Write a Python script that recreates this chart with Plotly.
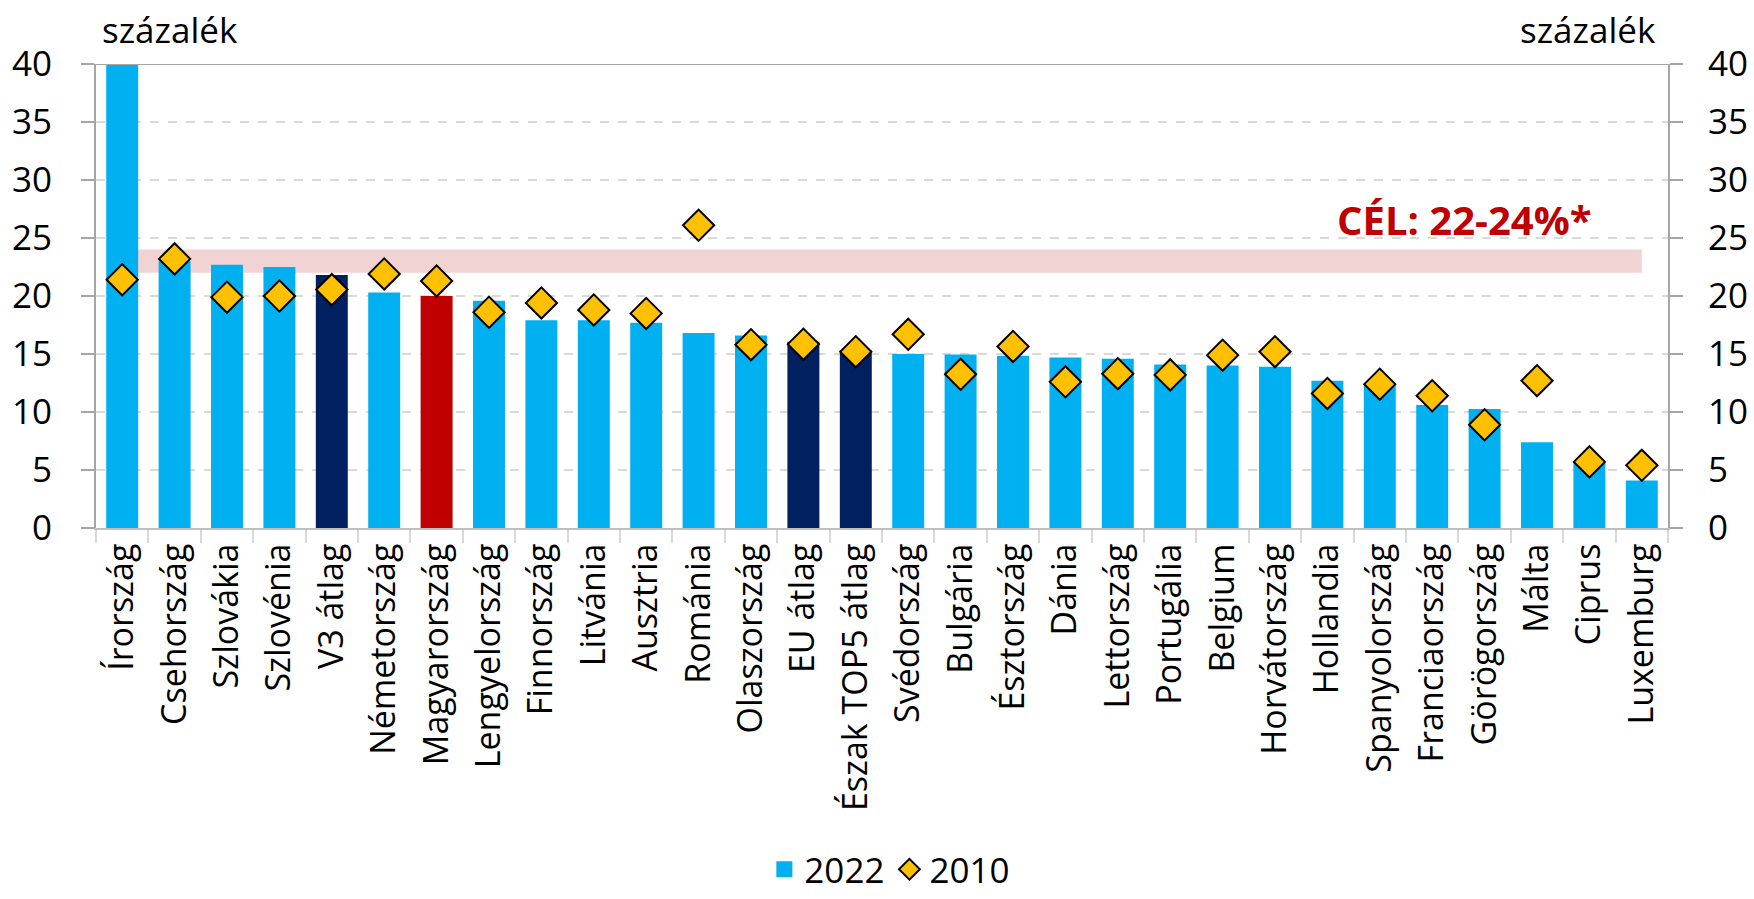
import plotly.graph_objects as go

categories = ["Írország", "Csehország", "Szlovákia", "Szlovénia", "V3 átlag", "Németország",
              "Magyarország", "Lengyelország", "Finnország", "Litvánia", "Ausztria", "Románia",
              "Olaszország", "EU átlag", "Észak TOP5 átlag", "Svédország", "Bulgária", "Észtország",
              "Dánia", "Lettország", "Portugália", "Belgium", "Horvátország", "Hollandia",
              "Spanyolország", "Franciaország", "Görögország", "Málta", "Ciprus", "Luxemburg"]
values_2022 = [40.0, 23.0, 22.7, 22.5, 21.8, 20.3, 20.0, 19.6, 17.9, 17.9, 17.7, 16.8,
               16.6, 16.05, 15.3, 15.0, 14.95, 14.85, 14.7, 14.6, 14.1, 14.0, 13.9, 12.7,
               12.5, 10.6, 10.25, 7.4, 5.6, 4.1]
values_2010 = [21.4, 23.2, 19.9, 20.0, 20.55, 21.9, 21.3, 18.6, 19.4, 18.8, 18.5, 26.1,
               15.8, 15.85, 15.2, 16.7, 13.25, 15.65, 12.6, 13.3, 13.2, 14.9, 15.2, 11.6,
               12.4, 11.4, 8.9, 12.7, 5.7, 5.4]
target_low, target_high = 22, 24
target_label = "CÉL: 22-24%*"
y_ticks = [0, 5, 10, 15, 20, 25, 30, 35, 40]
unit_label = "százalék"

LIGHT = "#00B0F0"
NAVY = "#002060"
RED = "#C00000"
GOLD = "#FFC000"
bar_colors = [RED if c == "Magyarország" else (NAVY if "átlag" in c else LIGHT) for c in categories]

FONT = "Open Sans"

fig = go.Figure()
fig.add_trace(go.Bar(x=categories, y=values_2022, name="2022",
                     marker=dict(color=bar_colors, line=dict(width=0)), showlegend=False))
fig.add_trace(go.Scatter(x=categories, y=values_2010, name="2010", mode="markers",
                         marker=dict(symbol="diamond", size=24, color=GOLD,
                                     line=dict(color="black", width=2)), showlegend=False))
# legend entries (larger legend symbols)
fig.add_trace(go.Scatter(x=[None], y=[None], name="2022", mode="markers",
                         marker=dict(symbol="square", size=24, color=LIGHT), legendrank=1))
fig.add_trace(go.Scatter(x=[None], y=[None], name="2010", mode="markers",
                         marker=dict(symbol="diamond", size=24, color=GOLD,
                                     line=dict(color="black", width=2)), legendrank=2))
# invisible trace to show right axis
fig.add_trace(go.Scatter(x=categories[:1], y=[0], yaxis="y2", mode="markers",
                         marker=dict(opacity=0), showlegend=False, hoverinfo="skip"))

fig.add_shape(type="rect", xref="x", yref="y", x0=0, x1=len(categories) - 1,
              y0=target_low, y1=target_high, fillcolor="#F2D3D3", line=dict(width=0), layer="below")

fig.add_annotation(x=25.6, y=26.6, xref="x", yref="y", text=f"<b>{target_label}</b>", showarrow=False,
                   font=dict(family=FONT, size=40, color=RED))
fig.add_annotation(x=0.0025, y=1.075, xref="paper", yref="paper", text=unit_label, showarrow=False,
                   xanchor="left", yanchor="middle", font=dict(family=FONT, size=35, color="black"))
fig.add_annotation(x=0.9936, y=1.075, xref="paper", yref="paper", text=unit_label, showarrow=False,
                   xanchor="right", yanchor="middle", font=dict(family=FONT, size=35, color="black"))

axis_common = dict(range=[0, 40], tickvals=y_ticks, ticks="outside", ticklen=13, tickwidth=2,
                   tickcolor="#A6A6A6", showline=True, linecolor="#A6A6A6", linewidth=2,
                   tickfont=dict(family=FONT, size=35, color="black"), zeroline=False,
                   automargin=False)

fig.update_layout(
    width=1754, height=899,
    paper_bgcolor="white", plot_bgcolor="white",
    margin=dict(l=96, r=86, t=64, b=371, autoexpand=False),
    bargap=0.39,
    font=dict(family=FONT, color="black"),
    xaxis=dict(type="category", tickangle=-90, ticks="outside", tickson="boundaries", ticklen=13,
               tickwidth=2, tickcolor="#D9D9D9", showline=True, linecolor="#BFBFBF", linewidth=2,
               mirror=False, tickfont=dict(family=FONT, size=34, color="black"), showgrid=False,
               range=[-0.5, len(categories) - 0.5], automargin=False),
    yaxis=dict(**axis_common, showgrid=True, gridcolor="#D9D9D9", gridwidth=2, griddash="dash",
               ticklabelstandoff=22),
    yaxis2=dict(**axis_common, overlaying="y", side="right", showgrid=False, ticklabelstandoff=18),
    legend=dict(orientation="h", x=0.505, xanchor="center", yref="container", y=0.0, yanchor="bottom",
                font=dict(family=FONT, size=35, color="black"), traceorder="normal"),
    showlegend=True,
)
# top border line at 40
fig.add_shape(type="line", xref="paper", yref="y", x0=0, x1=1, y0=40, y1=40,
              line=dict(color="#A6A6A6", width=2))

fig.write_html("out.html", config={"displayModeBar": False},
               post_script="document.body.style.margin='0px';")
